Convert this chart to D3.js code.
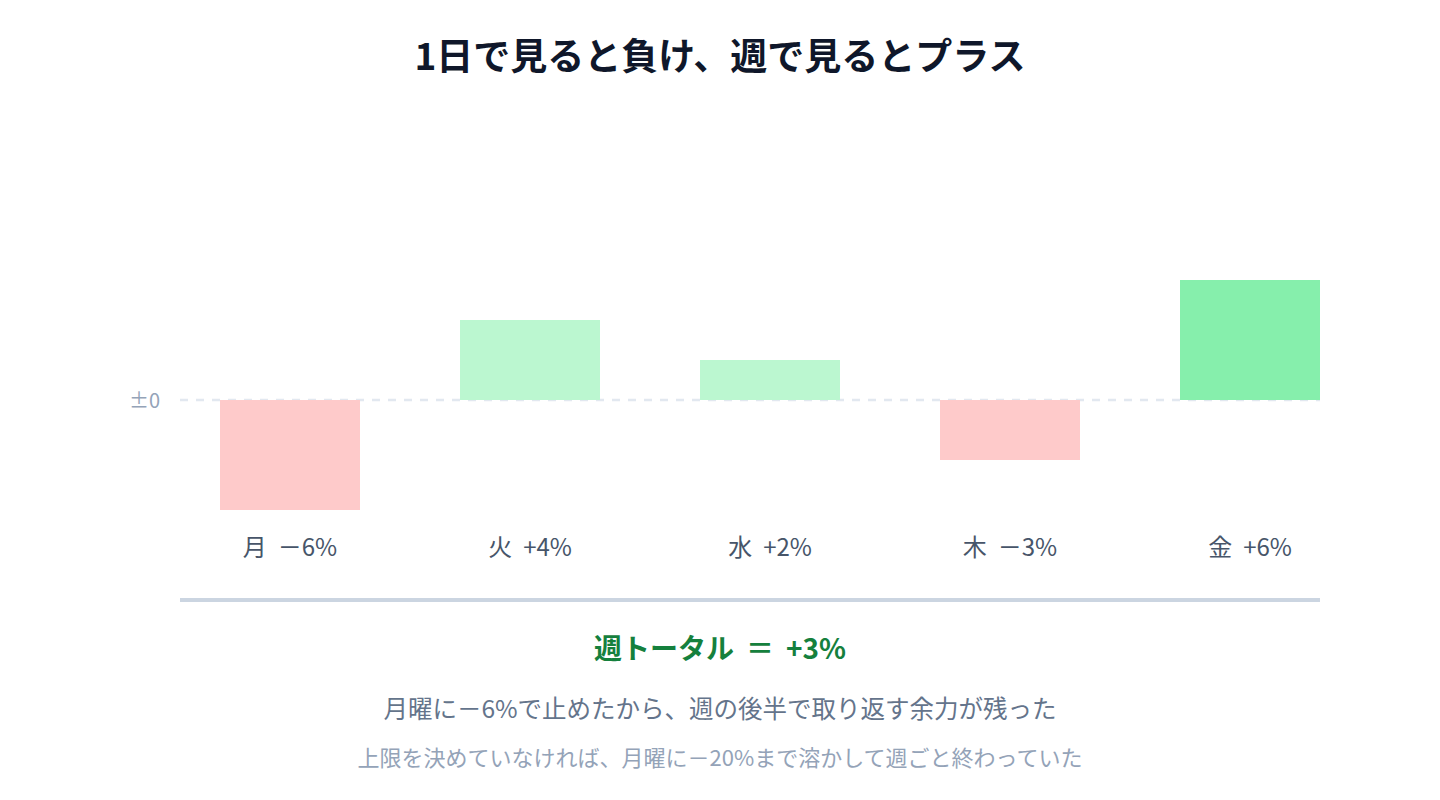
<!DOCTYPE html>
<html><head><meta charset="utf-8">
<script src="https://cdn.jsdelivr.net/npm/d3@7"></script>
<style>
html,body{margin:0;padding:0;background:#fff;}
svg{display:block;font-family:"Noto Sans CJK JP","Noto Sans",sans-serif;}
</style></head>
<body><svg id="chart" width="1440" height="800"></svg>
<script>
const days = ["月","火","水","木","金"];
const values = [-6, 4, 2, -3, 6];
const valueLabels = ["－6%","+4%","+2%","－3%","+6%"];
const zeroLabel = "±0";
const titleText = "1日で見ると負け、週で見るとプラス";
const totalParts = ["週トータル","＝","+3%"];
const note1 = "月曜に－6%で止めたから、週の後半で取り返す余力が残った";
const note2 = "上限を決めていなければ、月曜に－20%まで溶かして週ごと終わっていた";

const svg = d3.select("#chart");
const x = d3.scaleBand().domain(days).range([220, 1320]).paddingInner(100/240).paddingOuter(0);
const y = d3.scaleLinear().domain([-5.5, 6]).range([510, 280]).clamp(true);
const maxVal = d3.max(values);

svg.append("text").attr("x", 720).attr("y", 70).attr("text-anchor","middle")
  .attr("font-size", 37).attr("font-weight", 700).attr("fill", "#0f172a").text(titleText);

// zero line
svg.append("line").attr("x1", 180).attr("x2", 1320).attr("y1", y(0)).attr("y2", y(0))
  .attr("stroke", "#e2e8f0").attr("stroke-width", 2.5).attr("stroke-dasharray", "8,8");
svg.append("text").attr("x", 160).attr("y", y(0) + 1).attr("dy", "0.35em").attr("text-anchor","end")
  .attr("font-size", 20).attr("fill", "#94a3b8").text(zeroLabel);

svg.selectAll("rect.bar").data(values).join("rect").attr("class","bar")
  .attr("x", (d,i) => x(days[i])).attr("width", x.bandwidth())
  .attr("y", d => d >= 0 ? y(d) : y(0))
  .attr("height", d => Math.abs(y(d) - y(0)))
  .attr("fill", d => d < 0 ? "#fecaca" : (d === maxVal ? "#86efac" : "#bbf7d0"));

const dl = svg.selectAll("text.day").data(days).join("text").attr("class","day")
  .attr("x", (d,i) => x(d) + x.bandwidth()/2).attr("y", 556)
  .attr("text-anchor","middle").attr("font-size", 24).attr("fill", "#475569");
dl.append("tspan").text(d => d);
dl.append("tspan").attr("dx", 11).text((d,i) => valueLabels[i]);

svg.append("line").attr("x1", 180).attr("x2", 1320).attr("y1", 600).attr("y2", 600)
  .attr("stroke", "#cbd5e1").attr("stroke-width", 4);

const tt = svg.append("text").attr("x", 720).attr("y", 659).attr("text-anchor","middle")
  .attr("font-size", 28).attr("font-weight", 700).attr("fill", "#15803d");
tt.selectAll("tspan").data(totalParts).join("tspan").attr("dx", (d,i) => i ? 12 : 0).text(d => d);

svg.append("text").attr("x", 720).attr("y", 718).attr("text-anchor","middle")
  .attr("font-size", 24.5).attr("fill", "#64748b").text(note1);
svg.append("text").attr("x", 720).attr("y", 766).attr("text-anchor","middle")
  .attr("font-size", 22).attr("fill", "#94a3b8").text(note2);
</script></body></html>
